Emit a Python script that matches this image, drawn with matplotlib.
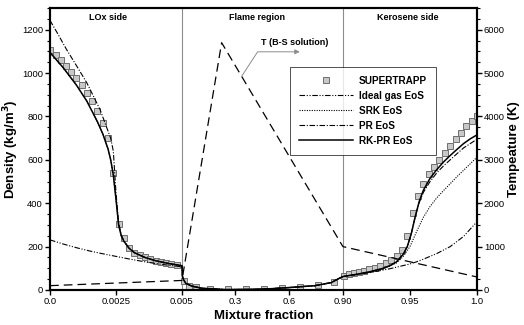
import matplotlib.pyplot as plt
import matplotlib.ticker as mticker
import numpy as np

plt.rcParams['font.family'] = ['Liberation Sans', 'DejaVu Sans']

# three-panel mixture fraction axis: LOx side | flame region | kerosene side
x_breaks = [0.0, 0.005, 0.9, 1.0]
x_frac = [0.0, 0.309, 0.686, 1.0]

x_ticks = [0.0, 0.0025, 0.005, 0.3, 0.6, 0.9, 0.95, 1.0]
x_ticklabels = ['0.0', '0.0025', '0.005', '0.3', '0.6', '0.90', '0.95', '1.0']

# SUPERTRAPP reference densities (kg/m3)
st_x = [0.0, 0.00023, 0.0004, 0.0006, 0.0008, 0.001, 0.0012, 0.0014, 0.0016, 0.0018,
        0.002, 0.0022, 0.0024, 0.0026, 0.0028, 0.003, 0.0032, 0.0034, 0.0036, 0.0038,
        0.004, 0.0042, 0.0044, 0.0046, 0.0048,
        0.015, 0.045, 0.085, 0.16, 0.26, 0.36, 0.46, 0.56, 0.66, 0.76, 0.85,
        0.9007, 0.9047, 0.9084, 0.912, 0.916, 0.9196, 0.924, 0.928, 0.932, 0.936,
        0.94, 0.944, 0.948, 0.9525, 0.956, 0.96, 0.964, 0.968, 0.972, 0.976,
        0.98, 0.984, 0.988, 0.992, 0.996, 1.0]
st_rho = [1108, 1085, 1058, 1034, 1006, 975, 945, 910, 872, 827,
          772, 700, 538, 303, 238, 192, 172, 161, 152, 143,
          135, 129, 123, 119, 113,
          40, 20, 14, 5, 3, 4, 6, 10, 14, 22, 38,
          64, 72, 78, 83, 89, 95, 103, 112, 123, 138,
          157, 185, 251, 357, 435, 489, 534, 565, 597, 631,
          665, 695, 726, 754, 777, 800]

# flame region, common to all EoS curves
flame_x = [0.008, 0.0125, 0.026, 0.06, 0.115, 0.245, 0.4, 0.5, 0.615, 0.745, 0.835, 0.88]
flame_rho = [62, 50, 31, 18, 8, 2, 3, 6, 12, 20, 34, 54]

# RK-PR EoS
rkpr_lox_x = [0.0, 0.0005, 0.001, 0.0014, 0.0018, 0.002, 0.0022, 0.0023, 0.0024, 0.0025,
              0.0026, 0.0027, 0.0028, 0.003, 0.0032, 0.0036, 0.004, 0.0045, 0.005]
rkpr_lox_rho = [1095, 1025, 945, 870, 775, 720, 650, 600, 530, 420,
                300, 250, 225, 192, 172, 150, 135, 122, 112]
rkpr_ker_x = [0.9, 0.91, 0.92, 0.93, 0.935, 0.94, 0.945, 0.948, 0.951, 0.954,
              0.957, 0.96, 0.965, 0.97, 0.975, 0.98, 0.985, 0.99, 0.995, 1.0]
rkpr_ker_rho = [62, 72, 84, 100, 112, 130, 165, 200, 260, 340,
                410, 460, 515, 555, 590, 620, 648, 675, 697, 715]

# PR EoS
pr_lox_x = [0.0, 0.0003, 0.00063, 0.001, 0.0014, 0.0019, 0.0021, 0.0023, 0.0024, 0.0025,
            0.0026, 0.0027, 0.0028, 0.003, 0.0032, 0.0036, 0.004, 0.0045, 0.005]
pr_lox_rho = [1243, 1180, 1108, 1035, 954, 831, 765, 700, 640, 450,
              310, 255, 225, 192, 172, 150, 135, 122, 112]
pr_ker_x = [0.9, 0.91, 0.92, 0.93, 0.935, 0.94, 0.945, 0.948, 0.951, 0.954,
            0.957, 0.96, 0.965, 0.97, 0.975, 0.98, 0.985, 0.99, 0.995, 1.0]
pr_ker_rho = [62, 72, 84, 100, 112, 130, 165, 200, 260, 340,
              405, 450, 500, 540, 572, 600, 628, 655, 675, 695]

# SRK EoS
srk_lox_x = rkpr_lox_x
srk_lox_rho = rkpr_lox_rho
srk_ker_x = [0.9, 0.92, 0.93, 0.94, 0.945, 0.95, 0.955, 0.96, 0.965, 0.97,
             0.975, 0.98, 0.985, 0.99, 1.0]
srk_ker_rho = [62, 82, 98, 125, 155, 200, 270, 335, 385, 425,
               458, 490, 522, 552, 612]

# ideal gas EoS
ig_lox_x = [0.0, 0.0005, 0.001, 0.0015, 0.002, 0.0025, 0.003, 0.0035, 0.004, 0.0045, 0.005]
ig_lox_rho = [231, 212, 195, 180, 167, 155, 143, 132, 122, 114, 107]
ig_ker_x = [0.9, 0.92, 0.935, 0.95, 0.955, 0.96, 0.97, 0.98, 0.99, 1.0]
ig_ker_rho = [62, 80, 98, 120, 130, 142, 168, 200, 247, 315]

# Burke-Schumann temperature (K)
T_x = [0.0, 0.005, 0.2257, 0.9, 1.0]
T_val = [100, 220, 5700, 1000, 300]


def forward(x):
    return np.interp(x, x_breaks, x_frac)


def inverse(u):
    return np.interp(u, x_frac, x_breaks)


def join(lox_x, lox_rho, ker_x, ker_rho):
    return np.array(lox_x + flame_x + ker_x), np.array(lox_rho + flame_rho + ker_rho)


fig = plt.figure(figsize=(5.24, 3.25), dpi=100)
ax = fig.add_axes([0.0954, 0.1077, 0.8149, 0.8677])
ax.set_xscale('function', functions=(forward, inverse))
ax2 = ax.twinx()

for xb in x_breaks[1:3]:
    ax.axvline(xb, color='#8c8c8c', lw=0.8, zorder=1)

ax.plot(st_x, st_rho, ls='none', marker='s', ms=4.8, mfc='#c8c8c8', mec='#6e6e6e',
        mew=0.7, label='SUPERTRAPP', zorder=3)
x, y = join(ig_lox_x, ig_lox_rho, ig_ker_x, ig_ker_rho)
ax.plot(x, y, color='k', lw=0.8, ls=(0, (5, 1.5, 1, 1.5, 1, 1.5)), label='Ideal gas EoS', zorder=4)
x, y = join(srk_lox_x, srk_lox_rho, srk_ker_x, srk_ker_rho)
ax.plot(x, y, color='k', lw=0.8, ls=(0, (1, 1.2)), label='SRK EoS', zorder=4)
x, y = join(pr_lox_x, pr_lox_rho, pr_ker_x, pr_ker_rho)
ax.plot(x, y, color='k', lw=0.8, ls=(0, (5, 1.5, 1, 1.5)), label='PR EoS', zorder=4)
x, y = join(rkpr_lox_x, rkpr_lox_rho, rkpr_ker_x, rkpr_ker_rho)
ax.plot(x, y, color='k', lw=1.1, ls='-', label='RK-PR EoS', zorder=5)

ax2.plot(T_x, T_val, color='k', lw=0.9, ls=(0, (7, 4)))

ax.set_xlim(0, 1)
ax.set_ylim(0, 1300)
ax2.set_ylim(0, 6500)
ax.set_xticks(x_ticks)
ax.set_xticklabels(x_ticklabels)
ax.xaxis.set_minor_locator(mticker.NullLocator())
ax.yaxis.set_major_locator(mticker.MultipleLocator(200))
ax.yaxis.set_minor_locator(mticker.MultipleLocator(50))
ax2.yaxis.set_major_locator(mticker.MultipleLocator(1000))
ax2.yaxis.set_minor_locator(mticker.MultipleLocator(250))

for a in (ax, ax2):
    for s in a.spines.values():
        s.set_linewidth(1.5)
    a.tick_params(which='major', direction='out', length=3.5, width=1, labelsize=6.8, pad=1.5)
    a.tick_params(which='minor', direction='out', length=2, width=0.8)

ax.set_xlabel('Mixture fraction', fontsize=9.5, fontweight='bold', labelpad=3)
ax.set_ylabel('Density (kg/m$^\\mathbf{3}$)', fontsize=9.5, fontweight='bold', labelpad=1)
ax2.set_ylabel('Tempeature (K)', fontsize=9.5, fontweight='bold', labelpad=2)

trans = ax.get_xaxis_transform()
for xr, txt in [(0.0022, 'LOx side'), (0.42, 'Flame region'), (0.948, 'Kerosene side')]:
    ax.text(xr, 0.965, txt, transform=trans, ha='center', va='center',
            fontsize=6.5, fontweight='bold')

ax2.text(0.63, 5700, 'T (B-S solution)', ha='center', va='center', fontsize=6.5, fontweight='bold')
ax2.annotate('', xy=(0.66, 5490), xytext=(0.337, np.interp(0.337, T_x, T_val)),
             arrowprops=dict(arrowstyle='-|>', color='#8c8c8c', lw=0.7, mutation_scale=7,
                             shrinkA=0, shrinkB=0,
                             connectionstyle='angle,angleA=57,angleB=0,rad=0'))

h, l = ax.get_legend_handles_labels()
leg = ax2.legend(h, l, loc='upper left', bbox_to_anchor=(0.562, 0.792), borderaxespad=0,
                 prop={'weight': 'bold', 'size': 7.2}, handlelength=5.4,
                 frameon=True, fancybox=False, edgecolor='k', labelspacing=0.5,
                 borderpad=0.9, handletextpad=0.6)
leg.get_frame().set_linewidth(0.6)

fig.savefig('out.png', dpi=100)
